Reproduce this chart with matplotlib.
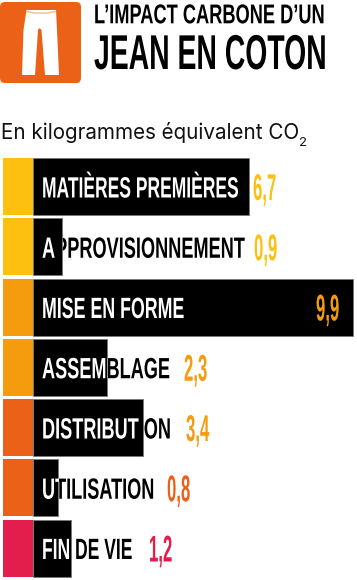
import matplotlib
matplotlib.use('Agg')
import matplotlib.pyplot as plt
from matplotlib.patches import FancyBboxPatch, Polygon, Rectangle
from matplotlib.patheffects import AbstractPathEffect
from matplotlib.transforms import Affine2D

etapes = ['MATIÈRES PREMIÈRES', 'APPROVISIONNEMENT', 'MISE EN FORME', 'ASSEMBLAGE',
          'DISTRIBUTION', 'UTILISATION', 'FIN DE VIE']
valeurs = [6.7, 0.9, 9.9, 2.3, 3.4, 0.8, 1.2]
couleurs = ['#FDC010', '#FDC010', '#F59B0E', '#F59B0E', '#EC6118', '#EC6118', '#E31D4C']
etiquettes = ['6,7', '0,9', '9,9', '2,3', '3,4', '0,8', '1,2']
coul_val = ['#FDC010', '#FDC010', '#F59B0E', '#F59B0E', '#F59B0E', '#EC6118', '#E31D4C']

# position x (px) des valeurs, elles suivent le texte et pas la barre
val_x = [253, 254, 316, 184, 186, 167, 149]
# compression de chaque libelle pour tomber sur la bonne largeur
serre_lib = [0.596, 0.62, 0.607, 0.619, 0.619, 0.618, 0.597]
# ou s'arrete le blanc (px) : une lettre a cheval sur le bord de la barre reste noire
blanc_fin = [250, 55.5, 250, 107.5, 138.5, 58.5, 71.5]

police = 'Liberation Sans'


# pas de police assez etroite, donc on comprime le texte a l'horizontale
class Serre(AbstractPathEffect):
    def __init__(self, texte, sx):
        super().__init__()
        self.texte = texte
        self.sx = sx

    def draw_path(self, renderer, gc, tpath, affine, rgbFace=None):
        x0 = self.texte.get_transform().transform(self.texte.get_position())[0]
        serre = Affine2D().translate(-x0, 0).scale(self.sx, 1).translate(x0, 0)
        renderer.draw_path(gc, tpath, affine + serre, rgbFace)


def ecrit(axe, x, y, s, taille, sx, couleur='black', **kw):
    t = axe.text(x, y, s, fontsize=taille, color=couleur, family=police, weight='bold',
                 ha='left', va='baseline', transform=head.transData, **kw)
    t.set_path_effects([Serre(t, sx)])
    return t


fig = plt.figure(figsize=(3.57, 5.80), dpi=100)

# axe des barres : x en kg, y en pixels
ax = fig.add_axes([0, 0, 1, 1])
k = 32.37  # px par kg
ax.set_xlim(-32.5 / k, (357 - 32.5) / k)
ax.set_ylim(580, 0)
ax.axis('off')

# axe en pixels pour l'entete et les textes
head = fig.add_axes([0, 0, 1, 1])
head.set_xlim(0, 357)
head.set_ylim(580, 0)
head.axis('off')
head.patch.set_alpha(0)

# icone
head.add_patch(FancyBboxPatch((0, 2), 81, 81, boxstyle='round,pad=0,rounding_size=5',
                              fc='#EC6118', ec='none'))
head.add_patch(Polygon([(26.5, 10), (56, 10), (57, 30), (59, 75), (45, 75), (41.5, 30), (39.5, 28),
                        (38, 30), (35, 75), (22, 75), (23.5, 30)], fc='white', ec='none'))
head.plot([27, 34, 48, 55], [11.5, 13, 13, 11.5], color='#F3A873', lw=0.8)

ecrit(head, 94, 23.3, 'L’IMPACT CARBONE D’UN', 19.6, 0.67)
ecrit(head, 94, 69, 'JEAN EN COTON', 35.2, 0.58)

head.text(1, 138.7, 'En kilogrammes équivalent CO', fontsize=14.85, family='Inter', color='#111111',
          ha='left', va='baseline')
head.text(299.5, 146, '2', fontsize=9.5, family='Inter', color='#111111', ha='left', va='baseline')

for i, (nom, v, c, lab) in enumerate(zip(etapes, valeurs, couleurs, etiquettes)):
    yc = 186.5 + 60.25 * i
    ax.barh(yc, 30 / k, height=57, left=-30 / k, color=c, edgecolor='none', zorder=2)
    ax.barh(yc, v, height=57, color='black', edgecolor='#777777', linewidth=0.6, zorder=2)
    # texte noir sous la barre, texte blanc decoupe au dessus
    ecrit(ax, 42, yc + 11, nom, 21.1, serre_lib[i], zorder=1)
    blanc = ecrit(head, 42, yc + 11, nom, 21.1, serre_lib[i], couleur='white')
    blanc.set_clip_on(True)
    blanc.set_clip_path(Rectangle((33, yc - 28), blanc_fin[i] - 33, 56, transform=head.transData))
    ecrit(head, val_x[i], yc + 13.5, lab, 26.8, 0.45, couleur=coul_val[i])

fig.savefig('out.png', dpi=100)
